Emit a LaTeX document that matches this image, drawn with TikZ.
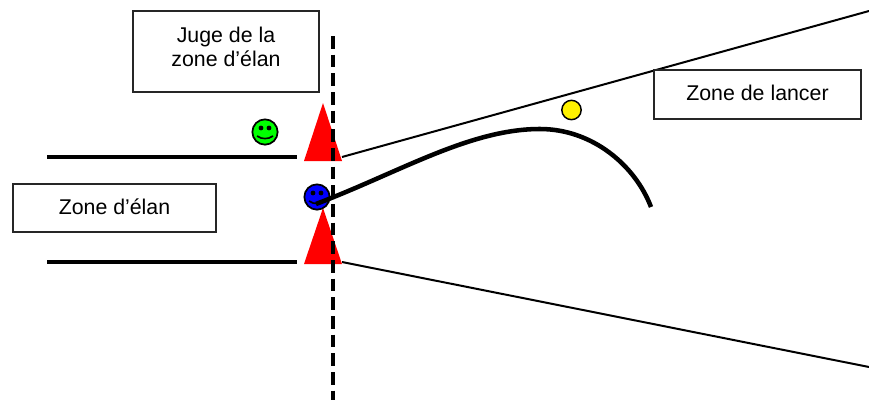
\documentclass[tikz,border=0pt]{standalone}
\usepackage{fontspec}
\setmainfont{Liberation Sans}
\newcommand{\lifted}[2]{\raisebox{#1}[\height][\depth]{#2}}
\tikzset{
    zonebox/.style={draw=black!85, line width=1.1pt, fill=white, align=center, inner sep=0pt, font=\fontsize{16}{18}\selectfont},
    cone/.style={black, line width=1.5pt},
    runway/.style={black, line width=2.5pt},
    plot line/.style={black, line width=3.4pt},
    foul/.style={black, line width=3pt, dash pattern=on 9.5pt off 4.5pt},
    face/.style={circle, draw=black, line width=1.3pt, minimum size=19pt, inner sep=0pt},
    flag/.style={fill=red, draw=none},
}
\begin{document}
\begin{tikzpicture}[x=0.75pt, y=-0.75pt]
    \useasboundingbox (0,0) rectangle (869,400);

    \coordinate (rt1) at (47,157);
    \coordinate (rt2) at (297,157);
    \coordinate (rb1) at (47,262);
    \coordinate (rb2) at (297,262);
    \coordinate (ct1) at (342,157);
    \coordinate (ct2) at (869,11);
    \coordinate (cb1) at (342,262);
    \coordinate (cb2) at (869,367);
    \coordinate (f1) at (333,36);
    \coordinate (f2) at (333,400);

    \draw[runway] (rt1) -- (rt2);
    \draw[runway] (rb1) -- (rb2);
    \draw[cone] (ct1) -- (ct2);
    \draw[cone] (cb1) -- (cb2);

    \node[zonebox, minimum width=139.5pt, minimum height=60.75pt] (judge) at (226,51.5) {Juge de la\\zone d’élan\\[-10.5pt]};
    \node[zonebox, minimum width=152pt, minimum height=36pt] (elan) at (114.5,208) {\lifted{0.75pt}{Zone d’élan}};
    \node[zonebox, minimum width=155pt, minimum height=36.75pt] (lancer) at (757.5,94.5) {\lifted{1.5pt}{Zone de lancer}};

    \fill[flag] (323,103) -- (342,161) -- (304,161) -- cycle;
    \fill[flag] (323,208) -- (342,264) -- (304,264) -- cycle;
    \draw[foul] (f1) -- (f2);

    \node[face, fill=green] (juror) at (265,132) {};
    \node[face, fill=blue] (thrower) at (317,197) {};
    \node[circle, draw=black, line width=1.1pt, fill=yellow, minimum size=14.5pt, inner sep=0pt] (ball) at (571.5,110) {};

    \foreach \who in {juror, thrower} {
        \fill ([shift={(-4,-4)}]\who.center) circle (2.4);
        \fill ([shift={(4,-4)}]\who.center) circle (2.4);
        \draw[line width=1.2pt] ([shift={(-8,4)}]\who.center) .. controls ([shift={(-3,7.5)}]\who.center) and ([shift={(3,7.5)}]\who.center) .. ([shift={(8,4)}]\who.center);
    }

    \coordinate (p1) at (316,204);
    \coordinate (p2) at (540,129);
    \coordinate (p3) at (651,207);
    \draw[plot line] (p1) .. controls (400,172) and (470,129) .. (p2) .. controls (592,129) and (635,165) .. (p3);
\end{tikzpicture}
\end{document}
